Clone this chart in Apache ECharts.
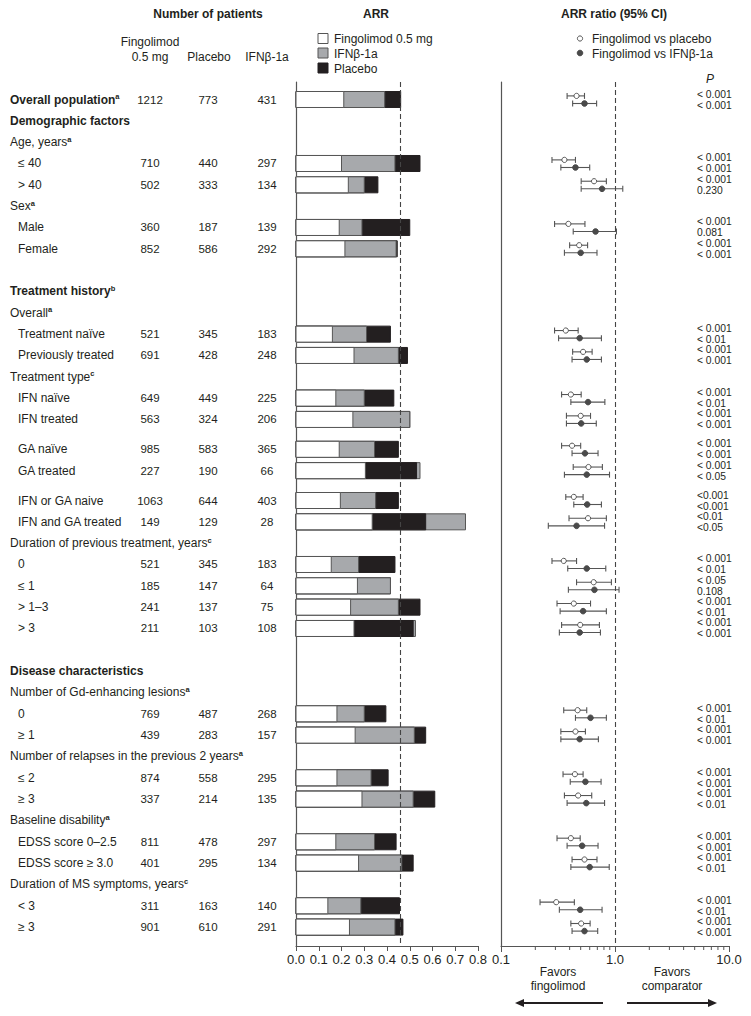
<!DOCTYPE html>
<html><head><meta charset="utf-8">
<script src="https://cdn.jsdelivr.net/npm/echarts@6/dist/echarts.min.js"></script>
<style>html,body{margin:0;padding:0;background:#fff}#c{width:751px;height:1016px}</style>
</head><body><div id="c"></div>
<script>
const N = null;
const rowLabels = ['Overall population','Demographic factors','Age, years','≤ 40','> 40','Sex','Male','Female',
  'Treatment history','Overall','Treatment naïve','Previously treated','Treatment type','IFN naïve','IFN treated',
  'GA naïve','GA treated','IFN or GA naive','IFN and GA treated','Duration of previous treatment, years',
  '0','≤ 1','> 1–3','> 3','Disease characteristics','Number of Gd-enhancing lesions','0','≥ 1',
  'Number of relapses in the previous 2 years','≤ 2','≥ 3','Baseline disability','EDSS score 0–2.5',
  'EDSS score ≥ 3.0','Duration of MS symptoms, years','< 3','≥ 3'];
const rowKind = ['head','head','sub','item','item','sub','item','item','head','sub','item','item','sub','item','item',
  'item','item','item','item','sub','item','item','item','item','head','sub','item','item','sub','item','item','sub',
  'item','item','sub','item','item'];
const rowNote = ['a','','a','','','a','','','b','a','','','c','','','','','','','c','','','','','','a','','','a','','','a','','','c','',''];

const nFingo   = [1212,N,N,710,502,N,360,852,N,N,521,691,N,649,563,985,227,1063,149,N,521,185,241,211,N,N,769,439,N,874,337,N,811,401,N,311,901];
const nPlacebo = [773,N,N,440,333,N,187,586,N,N,345,428,N,449,324,583,190,644,129,N,345,147,137,103,N,N,487,283,N,558,214,N,478,295,N,163,610];
const nIFN     = [431,N,N,297,134,N,139,292,N,N,183,248,N,225,206,365,66,403,28,N,183,64,75,108,N,N,268,157,N,295,135,N,297,134,N,140,291];

const arrFingo   = [0.21,N,N,0.20,0.23,N,0.19,0.215,N,N,0.16,0.255,N,0.175,0.25,0.19,0.305,0.195,0.335,N,0.155,0.27,0.24,0.255,N,N,0.18,0.26,N,0.18,0.29,N,0.175,0.275,N,0.14,0.235];
const arrIFN     = [0.39,N,N,0.435,0.30,N,0.29,0.44,N,N,0.31,0.45,N,0.30,0.50,0.345,0.545,0.35,0.745,N,0.275,0.415,0.45,0.525,N,N,0.30,0.52,N,0.33,0.515,N,0.345,0.465,N,0.285,0.435];
const arrPlacebo = [0.46,N,N,0.545,0.36,N,0.50,0.445,N,N,0.415,0.49,N,0.43,0.50,0.45,0.53,0.45,0.57,N,0.435,0.415,0.545,0.515,N,N,0.395,0.57,N,0.405,0.61,N,0.44,0.515,N,0.455,0.47];

const rrPbo   = [0.46,N,N,0.36,0.655,N,0.39,0.485,N,N,0.37,0.525,N,0.41,0.50,0.42,0.585,0.435,0.58,N,0.355,0.65,0.435,0.495,N,N,0.47,0.45,N,0.445,0.475,N,0.41,0.54,N,0.305,0.505];
const rrPboLo = [0.38,N,N,0.28,0.505,N,0.295,0.40,N,N,0.295,0.425,N,0.34,0.375,0.34,0.43,0.37,0.395,N,0.28,0.46,0.31,0.34,N,N,0.355,0.335,N,0.35,0.36,N,0.31,0.42,N,0.22,0.41];
const rrPboHi = [0.54,N,N,0.45,0.84,N,0.545,0.575,N,N,0.475,0.63,N,0.505,0.61,0.50,0.775,0.525,0.84,N,0.46,0.93,0.61,0.73,N,N,0.565,0.55,N,0.525,0.625,N,0.495,0.695,N,0.44,0.605];
const rrIFN   = [0.54,N,N,0.45,0.77,N,0.675,0.50,N,N,0.49,0.565,N,0.58,0.505,0.545,0.565,0.57,0.46,N,0.565,0.66,0.525,0.49,N,N,0.61,0.49,N,0.55,0.56,N,0.515,0.60,N,0.495,0.54];
const rrIFNLo = [0.425,N,N,0.335,0.505,N,0.43,0.36,N,N,0.32,0.42,N,0.41,0.375,0.42,0.36,0.435,0.26,N,0.385,0.39,0.33,0.325,N,N,0.45,0.335,N,0.405,0.38,N,0.38,0.41,N,0.325,0.42];
const rrIFNHi = [0.69,N,N,0.60,1.17,N,1.03,0.695,N,N,0.76,0.76,N,0.815,0.685,0.71,0.895,0.76,0.81,N,0.83,1.085,0.84,0.745,N,N,0.84,0.715,N,0.755,0.81,N,0.71,0.89,N,0.77,0.705];

const pPbo = ['< 0.001',N,N,'< 0.001','< 0.001',N,'< 0.001','< 0.001',N,N,'< 0.001','< 0.001',N,'< 0.001','< 0.001','< 0.001','< 0.001','<0.001','<0.01',N,'< 0.001','< 0.05','< 0.001','< 0.001',N,N,'< 0.001','< 0.001',N,'< 0.001','< 0.001',N,'< 0.001','< 0.001',N,'< 0.001','< 0.001'];
const pIFN = ['< 0.001',N,N,'< 0.001','0.230',N,'0.081','< 0.001',N,N,'< 0.01','< 0.001',N,'< 0.01','< 0.001','< 0.001','< 0.05','<0.001','<0.05',N,'< 0.01','0.108','< 0.01','< 0.001',N,N,'< 0.01','< 0.001',N,'< 0.001','< 0.01',N,'< 0.001','< 0.01',N,'< 0.01','< 0.001'];

const arrTicks = [0,0.1,0.2,0.3,0.4,0.5,0.6,0.7,0.8];
const ratioMinorTicks = [0.2,0.3,0.4,0.5,0.6,0.7,0.8,0.9,2,3,4,5,6,7,8,9];

// ---------- layout (not data) ----------
const rowSlot = [0,1,2,3,4,5,6,7,9,10,11,12,13,14,15,16.4,17.4,18.8,19.8,20.8,21.8,22.8,23.8,24.8,
  26.8,27.8,28.8,29.8,30.8,31.8,32.8,33.8,34.8,35.8,36.8,37.8,38.8];
const PITCH = 21.33, Y0 = 99.5, TOP = 82, BOTTOM = 946;
const yMin = (TOP - Y0) / PITCH, yMax = (BOTTOM - Y0) / PITCH;
const FONT = "'Liberation Sans', Arial, Helvetica, sans-serif";
const TXT = '#231f20';
const LINE = '#555';
const COL = {f: '#ffffff', i: '#a7a9ac', p: '#231f20'};
const FS = 12, FS_NUM = 11.5, FS_P = 10.3, FS_AX = 13;

const chart = echarts.init(document.getElementById('c'), null, {renderer: 'svg'});

function txt(x, y, text, opt) {
  return {type: 'text', x: x, y: y, style: Object.assign({
    text: text, fill: TXT, fontSize: FS, fontFamily: FONT, align: 'left', verticalAlign: 'middle'}, opt || {})};
}

const idxAll = rowLabels.map((_, i) => i);
const barRows = idxAll.filter(i => arrFingo[i] != null);
const rrRows = idxAll.filter(i => rrPbo[i] != null);

function tableItem(params, api) {
  const i = api.value(2);
  const y = api.coord([0, rowSlot[i]])[1];
  const kind = rowKind[i];
  const x = kind === 'item' ? 18 : 10;
  const bold = kind === 'head' ? 'bold' : 'normal';
  const children = [{
    type: 'text', style: {
      x: x, y: y, align: 'left', verticalAlign: 'middle',
      text: '{m|' + rowLabels[i] + '}' + (rowNote[i] ? '{s|' + rowNote[i] + '}' : ''),
      rich: {
        m: {fontSize: FS, fontFamily: FONT, fontWeight: bold, fill: TXT, lineHeight: 14},
        s: {fontSize: 7.5, fontFamily: FONT, fontWeight: 'bold', fill: TXT, verticalAlign: 'top', lineHeight: 8}
      }
    }
  }];
  if (nFingo[i] != null) {
    const ns = {fill: TXT, fontSize: FS_NUM, fontFamily: FONT, align: 'center', verticalAlign: 'middle'};
    children.push({type: 'text', style: Object.assign({x: 150, y: y, text: String(nFingo[i])}, ns)});
    children.push({type: 'text', style: Object.assign({x: 208, y: y, text: String(nPlacebo[i])}, ns)});
    children.push({type: 'text', style: Object.assign({x: 267, y: y, text: String(nIFN[i])}, ns)});
  }
  return {type: 'group', children: children};
}

function barItem(params, api) {
  const i = api.value(2);
  const slot = rowSlot[i];
  const h = api.size([0, 1])[1] * 0.75;
  const segs = [
    {v: arrPlacebo[i], c: COL.p, s: COL.p, o: 0},
    {v: arrIFN[i], c: COL.i, s: LINE, o: 1},
    {v: arrFingo[i], c: COL.f, s: LINE, o: 2}
  ].sort((a, b) => (b.v - a.v) || (a.o - b.o));
  const children = segs.map(sg => {
    const p0 = api.coord([0, slot]);
    const p1 = api.coord([sg.v, slot]);
    return {type: 'rect', shape: {x: p0[0], y: p0[1] - h / 2, width: p1[0] - p0[0], height: h},
      style: {fill: sg.c, stroke: sg.s, lineWidth: 1}};
  });
  return {type: 'group', children: children};
}

function ciShapes(api, slot, dy, pt, lo, hi, filled) {
  const yy = api.coord([1, slot])[1] + dy;
  const xl = api.coord([lo, slot])[0], xh = api.coord([hi, slot])[0], xp = api.coord([pt, slot])[0];
  const st = {stroke: LINE, lineWidth: 1.1};
  return [
    {type: 'line', shape: {x1: xl, y1: yy, x2: xh, y2: yy}, style: st},
    {type: 'line', shape: {x1: xl, y1: yy - 3, x2: xl, y2: yy + 3}, style: st},
    {type: 'line', shape: {x1: xh, y1: yy - 3, x2: xh, y2: yy + 3}, style: st},
    {type: 'circle', shape: {cx: xp, cy: yy, r: filled ? 2.8 : 2.6},
      style: {fill: filled ? '#4a4a4a' : '#fff', stroke: filled ? '#4a4a4a' : LINE, lineWidth: 1}}
  ];
}

function rrItem(params, api) {
  const i = api.value(2);
  const slot = rowSlot[i];
  const y = api.coord([1, slot])[1];
  let ch = [];
  ch = ch.concat(ciShapes(api, slot, -3.6, rrPbo[i], rrPboLo[i], rrPboHi[i], false));
  ch = ch.concat(ciShapes(api, slot, 4, rrIFN[i], rrIFNLo[i], rrIFNHi[i], true));
  const ps = {fill: TXT, fontSize: FS_P, fontFamily: FONT, align: 'left', verticalAlign: 'middle'};
  ch.push({type: 'text', style: Object.assign({x: 697, y: y - 5.5, text: pPbo[i]}, ps)});
  ch.push({type: 'text', style: Object.assign({x: 697, y: y + 5.5, text: pIFN[i]}, ps)});
  return {type: 'group', children: ch};
}

function minorTickItem(params, api) {
  const p = api.coord([api.value(0), yMax]);
  return {type: 'line', shape: {x1: p[0], y1: p[1], x2: p[0], y2: p[1] + 4}, style: {stroke: LINE, lineWidth: 1}};
}

const yAxisBase = (g) => ({
  type: 'value', gridIndex: g, inverse: true, min: yMin, max: yMax,
  axisLine: {show: true, onZero: false, lineStyle: {color: LINE, width: 1.2}},
  axisTick: {show: false}, axisLabel: {show: false}, splitLine: {show: false}
});

const option = {
  animation: false,
  backgroundColor: '#fff',
  textStyle: {fontFamily: FONT},
  grid: [
    {left: 296, top: TOP, width: 182, height: BOTTOM - TOP},
    {left: 501, top: TOP, width: 228, height: BOTTOM - TOP}
  ],
  xAxis: [
    {type: 'value', gridIndex: 0, min: arrTicks[0], max: arrTicks[arrTicks.length - 1], interval: 0.1,
      axisLine: {show: true, onZero: false, lineStyle: {color: LINE, width: 1.2}},
      axisTick: {show: true, length: 5, lineStyle: {color: LINE}},
      axisLabel: {formatter: v => v.toFixed(1), color: TXT, fontSize: FS_AX, fontFamily: FONT, margin: 7},
      splitLine: {show: false}},
    {type: 'log', gridIndex: 1, logBase: 10, min: 0.1, max: 10,
      axisLine: {show: true, onZero: false, lineStyle: {color: LINE, width: 1.2}},
      axisTick: {show: true, length: 6, lineStyle: {color: LINE}},
      axisLabel: {formatter: v => (v < 0.5 ? '0.1' : v < 5 ? '1.0' : '10.0'), color: TXT, fontSize: FS_AX, fontFamily: FONT, margin: 7},
      splitLine: {show: false}}
  ],
  yAxis: [yAxisBase(0), yAxisBase(1)],
  series: [
    {type: 'custom', name: 'table', xAxisIndex: 0, yAxisIndex: 0, clip: false, silent: true,
      data: idxAll.map(i => [0, rowSlot[i], i]), renderItem: tableItem, z: 5},
    {type: 'custom', name: 'ARR', xAxisIndex: 0, yAxisIndex: 0, clip: false, silent: true,
      data: barRows.map(i => [Math.max(arrFingo[i], arrIFN[i], arrPlacebo[i]), rowSlot[i], i]),
      renderItem: barItem, z: 3,
      markLine: {silent: true, symbol: 'none', label: {show: false},
        lineStyle: {type: [5, 3], color: '#444', width: 1.1},
        data: [{xAxis: arrPlacebo[0]}]}},
    {type: 'custom', name: 'ratio', xAxisIndex: 1, yAxisIndex: 1, clip: false, silent: true,
      data: rrRows.map(i => [rrPbo[i], rowSlot[i], i]), renderItem: rrItem, z: 4,
      markLine: {silent: true, symbol: 'none', label: {show: false},
        lineStyle: {type: [5, 3], color: '#444', width: 1.1},
        data: [{xAxis: 1}]}},
    {type: 'custom', name: 'minorTicks', xAxisIndex: 1, yAxisIndex: 1, clip: false, silent: true,
      data: ratioMinorTicks.map(v => [v, yMax]), renderItem: minorTickItem}
  ],
  graphic: [
    txt(208, 14, 'Number of patients', {fontWeight: 'bold', align: 'center'}),
    txt(376, 14, 'ARR', {fontWeight: 'bold', align: 'center'}),
    txt(614, 14, 'ARR ratio (95% CI)', {fontWeight: 'bold', align: 'center'}),
    txt(150, 41.5, 'Fingolimod', {align: 'center'}),
    txt(150, 56.5, '0.5 mg', {align: 'center'}),
    txt(209, 56.5, 'Placebo', {align: 'center'}),
    txt(267, 56.5, 'IFNβ-1a', {align: 'center'}),
    {type: 'rect', shape: {x: 318, y: 33.5, width: 10, height: 10}, style: {fill: COL.f, stroke: LINE, lineWidth: 1}},
    {type: 'rect', shape: {x: 318, y: 48, width: 10, height: 10}, style: {fill: COL.i, stroke: LINE, lineWidth: 1}},
    {type: 'rect', shape: {x: 318, y: 63, width: 10, height: 10}, style: {fill: COL.p, stroke: COL.p, lineWidth: 1}},
    txt(334, 39, 'Fingolimod 0.5 mg'),
    txt(334, 53.5, 'IFNβ-1a'),
    txt(334, 69, 'Placebo'),
    {type: 'circle', shape: {cx: 580, cy: 38.5, r: 2.6}, style: {fill: '#fff', stroke: LINE, lineWidth: 1}},
    {type: 'circle', shape: {cx: 580, cy: 53, r: 2.8}, style: {fill: '#4a4a4a', stroke: '#4a4a4a'}},
    txt(592, 38.5, 'Fingolimod vs placebo'),
    txt(592, 53.5, 'Fingolimod vs IFNβ-1a'),
    txt(710, 79, 'P', {fontStyle: 'italic', align: 'center'}),
    txt(558, 972, 'Favors', {align: 'center'}),
    txt(558, 986, 'fingolimod', {align: 'center'}),
    txt(672, 972, 'Favors', {align: 'center'}),
    txt(672, 986, 'comparator', {align: 'center'}),
    {type: 'line', shape: {x1: 603, y1: 1003, x2: 522, y2: 1003}, style: {stroke: TXT, lineWidth: 2}},
    {type: 'polygon', shape: {points: [[515, 1003], [524, 999], [524, 1007]]}, style: {fill: TXT}},
    {type: 'line', shape: {x1: 627, y1: 1003, x2: 710, y2: 1003}, style: {stroke: TXT, lineWidth: 2}},
    {type: 'polygon', shape: {points: [[717, 1003], [708, 999], [708, 1007]]}, style: {fill: TXT}}
  ]
};
chart.setOption(option);
</script>
</body></html>
